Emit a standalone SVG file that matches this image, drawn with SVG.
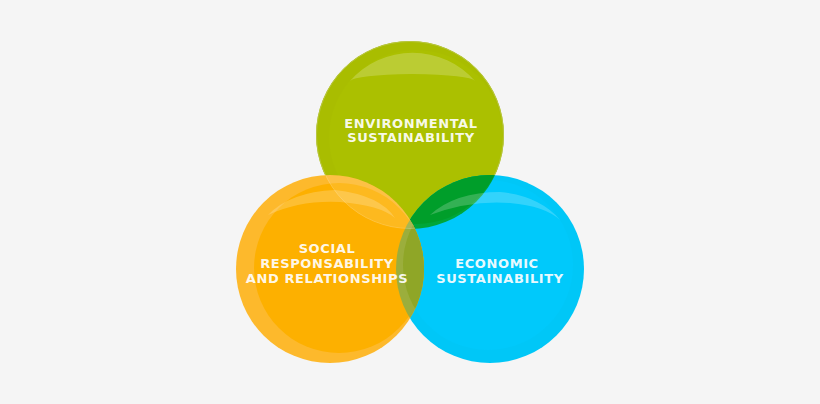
<svg xmlns="http://www.w3.org/2000/svg" width="820" height="404" viewBox="0 0 820 404">
<style>
.lbl{font-family:"DejaVu Sans",Verdana,sans-serif;font-weight:bold;font-size:13px;letter-spacing:0.6px;fill:#ffffff;fill-opacity:0.93;text-anchor:middle}
.gloss{fill:#ffffff;fill-opacity:0.2}
</style>
<defs>
<clipPath id="cBlue"><circle cx="490" cy="269" r="94"/></clipPath>
<clipPath id="cOrange"><circle cx="330" cy="269" r="94"/></clipPath>
<clipPath id="cGreen"><circle cx="410" cy="135" r="94"/></clipPath>
</defs>
<rect width="820" height="404" fill="#f5f5f5"/>
<g id="environmental">
<circle cx="410" cy="135" r="94" fill="#a9bd00"/>
<circle cx="416" cy="137" r="87" fill="#abc000"/>
<circle cx="410" cy="135" r="93.5" fill="none" stroke="#b8c640" stroke-width="1"/>
<path class="gloss" d="M350,81 A80,75 0 0 1 475,81 Q470,75 412,74 Q356,75 350,81 Z"/>
<text class="lbl" x="411" y="128">ENVIRONMENTAL</text>
<text class="lbl" x="411" y="142">SUSTAINABILITY</text>
</g>
<g id="economic">
<circle cx="490" cy="269" r="94" fill="#00c7f7"/>
<circle cx="488" cy="265" r="85" fill="#00c9fb"/>
<g clip-path="url(#cBlue)">
<circle cx="410" cy="135" r="94" fill="#00a63a"/>
<circle cx="416" cy="137" r="87" fill="#009e2a"/>
</g>
<path class="gloss" d="M430,215 Q470,200 510,203 Q545,206 560,220 Q540,196 500,192 Q455,192 430,215 Z"/>
<text class="lbl" x="497" y="268">ECONOMIC</text>
<text class="lbl" x="500" y="283">SUSTAINABILITY</text>
</g>
<g id="social">
<circle cx="330" cy="269" r="94" fill="#fdb92c"/>
<circle cx="339" cy="268" r="85" fill="#fdb000"/>
<g clip-path="url(#cOrange)">
<circle cx="490" cy="269" r="94" fill="#9bae3c"/>
<circle cx="488" cy="265" r="85" fill="#8fa627"/>
</g>
<g clip-path="url(#cOrange)">
<g clip-path="url(#cGreen)">
<circle cx="410" cy="135" r="94" fill="#ffffff" fill-opacity="0.12"/>
</g>
</g>
<path class="gloss" d="M268,215 Q300,200 340,202 Q380,205 395,218 Q380,195 335,190 Q290,192 268,215 Z"/>
<circle cx="410" cy="135" r="93.5" fill="none" stroke="#ffffff" stroke-opacity="0.15" stroke-width="1" clip-path="url(#cOrange)"/>
<text class="lbl" x="327" y="253">SOCIAL</text>
<text class="lbl" x="327" y="268">RESPONSABILITY</text>
<text class="lbl" x="327" y="283">AND RELATIONSHIPS</text>
</g>
</svg>
